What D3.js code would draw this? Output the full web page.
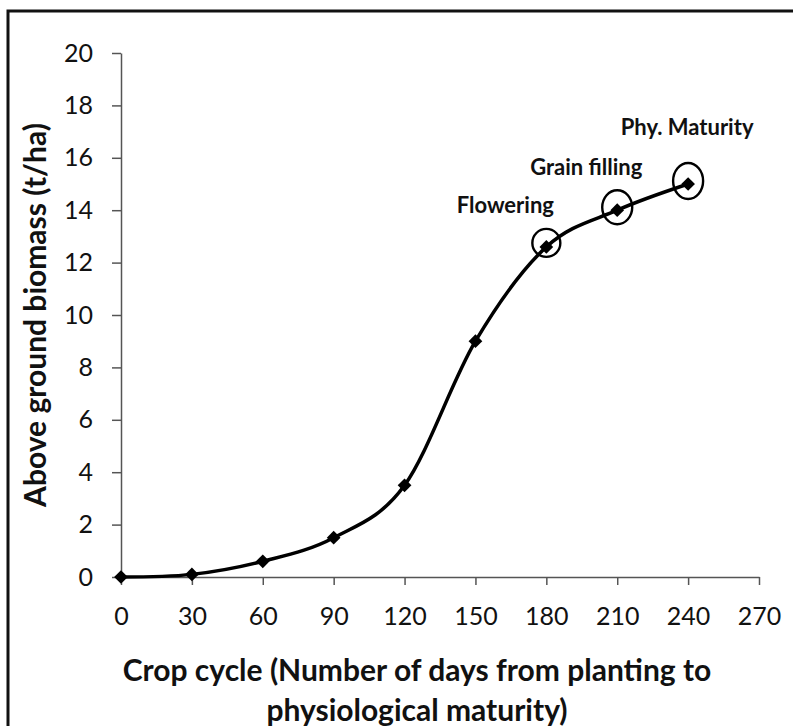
<!DOCTYPE html>
<html>
<head>
<meta charset="utf-8">
<script src="https://cdn.jsdelivr.net/npm/d3@7"></script>
<style>
  body { margin: 0; background: #fff; }
  text { font-family: Lato, "Open Sans", sans-serif; fill: #111; }
</style>
</head>
<body>
<div id="chart"></div>
<script>
// data
const days = [0, 30, 60, 90, 120, 150, 180, 210, 240];
const biomass = [0, 0.1, 0.6, 1.5, 3.5, 9, 12.6, 14, 15];
const stageDays = [180, 210, 240];
const stageNames = ["Flowering", "Grain filling", "Phy. Maturity"];
const xTicks = [0, 30, 60, 90, 120, 150, 180, 210, 240, 270];
const yTicks = [0, 2, 4, 6, 8, 10, 12, 14, 16, 18, 20];

const width = 793;
const height = 726;

const margin = {left: 121, top: 53, right: 34, bottom: 149};

let svg = d3.select("#chart")
    .append("svg")
    .attr("width", width)
    .attr("height", height);

// outer frame (only left and top edges fall inside the picture)
svg.append("rect")
    .attr("x", 8)
    .attr("y", 11)
    .attr("width", 900)
    .attr("height", 900)
    .attr("fill", "none")
    .attr("stroke", "#111")
    .attr("stroke-width", 3);

let xScale = d3.scaleLinear()
    .domain([0, 270])
    .range([margin.left, width - margin.right]);

let yScale = d3.scaleLinear()
    .domain([0, 20])
    .range([height - margin.bottom, margin.top]);

let xAxis = d3.axisBottom(xScale)
    .tickValues(xTicks)
    .tickSize(8)
    .tickPadding(22)
    .tickSizeOuter(0);

let yAxis = d3.axisLeft(yScale)
    .tickValues(yTicks)
    .tickSize(9)
    .tickPadding(19)
    .tickSizeOuter(0);

let gx = svg.append("g")
    .attr("transform", `translate(0, ${yScale(0)})`)
    .call(xAxis);

let gy = svg.append("g")
    .attr("transform", `translate(${xScale(0)}, 0)`)
    .call(yAxis);

[gx, gy].forEach(g => {
    g.selectAll("path, line").attr("stroke", "#555").attr("stroke-width", 1.5);
    g.selectAll("text").style("font-size", "25px").attr("fill", "#111");
});

// axis titles
let xTitle = svg.append("text")
    .attr("text-anchor", "middle")
    .style("font-size", "30px")
    .style("font-weight", "bold");
xTitle.append("tspan").attr("x", 417).attr("y", 681).text("Crop cycle (Number of days from planting to");
xTitle.append("tspan").attr("x", 417).attr("y", 721).text("physiological maturity)");

svg.append("text")
    .attr("transform", `translate(46, 315) rotate(-90)`)
    .attr("text-anchor", "middle")
    .style("font-size", "30px")
    .style("font-weight", "bold")
    .text("Above ground biomass (t/ha)");

let points = days.map((d, i) => ({day: d, value: biomass[i]}));

let line = d3.line()
    .x(d => xScale(d.day))
    .y(d => yScale(d.value))
    .curve(d3.curveCatmullRom.alpha(0));

svg.append("path")
    .datum(points)
    .attr("d", line)
    .attr("fill", "none")
    .attr("stroke", "#000")
    .attr("stroke-width", 3.5);

svg.selectAll("path.marker")
    .data(points)
    .join("path")
    .classed("marker", true)
    .attr("d", d3.symbol(d3.symbolDiamond2, 120))
    .attr("transform", d => `translate(${xScale(d.day)}, ${yScale(d.value)})`)
    .attr("fill", "#000");

// stage ellipses and labels
let stages = stageDays.map((d, i) => ({day: d, value: biomass[days.indexOf(d)], name: stageNames[i]}));
let ellipseR = [[14, 14], [15, 17], [15, 18]];
let ellipseDy = [-4, -3, -3];
let labelPos = [[-41, -34], [-31, -35], [-1, -49]];

svg.selectAll("ellipse.stage")
    .data(stages)
    .join("ellipse")
    .classed("stage", true)
    .attr("cx", d => xScale(d.day))
    .attr("cy", (d, i) => yScale(d.value) + ellipseDy[i])
    .attr("rx", (d, i) => ellipseR[i][0])
    .attr("ry", (d, i) => ellipseR[i][1])
    .attr("fill", "none")
    .attr("stroke", "#000")
    .attr("stroke-width", 2.4);

svg.selectAll("text.stage")
    .data(stages)
    .join("text")
    .classed("stage", true)
    .attr("x", (d, i) => xScale(d.day) + labelPos[i][0])
    .attr("y", (d, i) => yScale(d.value) + labelPos[i][1])
    .attr("text-anchor", "middle")
    .style("font-size", "22px")
    .style("font-weight", "bold")
    .text(d => d.name);
</script>
</body>
</html>
